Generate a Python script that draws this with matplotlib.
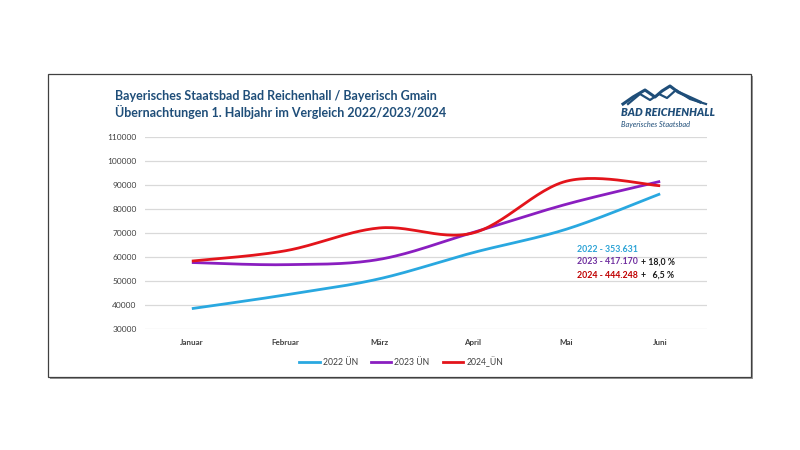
import numpy as np
import matplotlib
matplotlib.use("Agg")
import matplotlib.pyplot as plt
from matplotlib.patches import Rectangle
from matplotlib.lines import Line2D

months = ["Januar", "Februar", "März", "April", "Mai", "Juni"]
ue_2022 = [38500, 44200, 50900, 61800, 71600, 86300]
ue_2023 = [57700, 56800, 59000, 70200, 82000, 91500]
ue_2024 = [58300, 62600, 72100, 70000, 91600, 89700]
series_labels = ["2022 ÜN", "2023 ÜN", "2024_ÜN"]
series_colors = ["#29A8E0", "#8A1EC0", "#E3141B"]
yticks = list(range(30000, 110001, 10000))

title_lines = ["Bayerisches Staatsbad Bad Reichenhall / Bayerisch Gmain",
               "Übernachtungen 1. Halbjahr im Vergleich 2022/2023/2024"]
totals = [("2022 - 353.631", ""), ("2023 - 417.170", "+ 18,0 %"), ("2024 - 444.248", "+   6,5 %")]
total_colors = ["#2CA3D6", "#7030A0", "#C00000"]

plt.rcParams['font.family'] = ['Lato', 'DejaVu Sans']


def smooth(x, y, n=30):
    # Catmull-Rom (Excel-like smoothed line) through the data points
    x = np.asarray(x, float); y = np.asarray(y, float)
    px = np.concatenate([[x[0]], x, [x[-1]]])
    py = np.concatenate([[y[0]], y, [y[-1]]])
    xs, ys = [], []
    t = np.linspace(0, 1, n)
    for i in range(1, len(px) - 2):
        p0, p1, p2, p3 = [np.array([px[j], py[j]]) for j in (i - 1, i, i + 1, i + 2)]
        c1 = p1 + (p2 - p0) / 6
        c2 = p2 - (p3 - p1) / 6
        pts = ((1 - t) ** 3)[:, None] * p1 + (3 * (1 - t) ** 2 * t)[:, None] * c1 \
            + (3 * (1 - t) * t ** 2)[:, None] * c2 + (t ** 3)[:, None] * p2
        xs.append(pts[:, 0]); ys.append(pts[:, 1])
    return np.concatenate(xs), np.concatenate(ys)


fig = plt.figure(figsize=(8, 4.5), dpi=100)
fig.patch.set_facecolor("white")

# outer frame with slight shadow
fig.patches.append(Rectangle((49.5 / 800, 1 - 378.5 / 450), 703 / 800, 303 / 450,
                             transform=fig.transFigure, fill=True, facecolor="#9a9a9a",
                             edgecolor="none", zorder=-3))
fig.patches.append(Rectangle((48 / 800, 1 - 377 / 450), 703 / 800, 303 / 450,
                             transform=fig.transFigure, fill=True, facecolor="white",
                             edgecolor="#404040", lw=0.9, zorder=-2))

ax = fig.add_axes([145 / 800, 1 - 329 / 450, 562 / 800, 192 / 450])
ax.set_facecolor("none")
x = np.arange(len(months))
for vals, lab, col in zip([ue_2022, ue_2023, ue_2024], series_labels, series_colors):
    sx, sy = smooth(x, vals)
    ax.plot(sx, sy, color=col, lw=2.0, solid_capstyle="butt", label=lab, zorder=3)

ax.set_xlim(-0.5, len(months) - 0.5)
ax.set_ylim(30000, 110000)
ax.set_yticks(yticks)
ax.set_yticklabels([str(v) for v in yticks], fontsize=6, color="#404040")
ax.set_xticks(x)
ax.set_xticklabels(months, fontsize=5.8, color="#404040", fontweight="bold")
ax.grid(axis="y", color="#d9d9d9", lw=0.9)
ax.tick_params(length=0, pad=6)
ax.tick_params(axis="x", pad=7)
for s in ax.spines.values():
    s.set_visible(False)

# title
fig.text(115 / 800, 1 - 96 / 450, title_lines[0], fontsize=9, fontweight="bold",
         color="#1F4E79", va="center", ha="left")
fig.text(115 / 800, 1 - 112 / 450, title_lines[1], fontsize=9, fontweight="bold",
         color="#1F4E79", va="center", ha="left")

# totals text
ys_txt = [249, 262, 275]
for (t1, t2), c, yy in zip(totals, total_colors, ys_txt):
    fig.text(577 / 800, 1 - yy / 450, t1, fontsize=6.3, fontweight="bold", color=c,
             va="center", ha="left")
    if t2:
        fig.text(641 / 800, 1 - yy / 450, t2, fontsize=6.3, fontweight="bold",
                 color="#1a1a1a", va="center", ha="left")

# legend
handles = [Line2D([0], [0], color=c, lw=2) for c in series_colors]
fig.legend(handles, series_labels, loc="center", bbox_to_anchor=(401 / 800, 1 - 362 / 450),
           ncol=3, frameon=False, fontsize=6.2, handlelength=2.4, columnspacing=1.5,
           handletextpad=0.35, labelcolor="#404040")

# logo
def fx(px):
    return px / 800

def fy(py):
    return 1 - py / 450

m1x = [623, 633, 645, 655, 662, 670, 678, 700]
m1y = [104, 97, 90, 97, 91, 86, 92, 102]
m2x = [628, 640, 650, 659, 667, 676, 690, 706]
m2y = [104, 94, 100, 94, 98, 90, 99, 104]
fig.lines.append(Line2D([fx(v) for v in m1x], [fy(v) for v in m1y],
                        transform=fig.transFigure, color="#1F4E79", lw=2.2))
fig.lines.append(Line2D([fx(v) for v in m2x], [fy(v) for v in m2y],
                        transform=fig.transFigure, color="#1F4E79", lw=1.6))
fig.text(fx(621), fy(113), "BAD REICHENHALL", fontsize=7.8, fontweight="heavy",
         style="italic", color="#1F4E79", va="center", ha="left")
fig.text(fx(621), fy(124), "Bayerisches Staatsbad", fontsize=5.3, style="italic",
         color="#1F4E79", va="center", ha="left")

fig.savefig("out.png", dpi=100, facecolor="white")
